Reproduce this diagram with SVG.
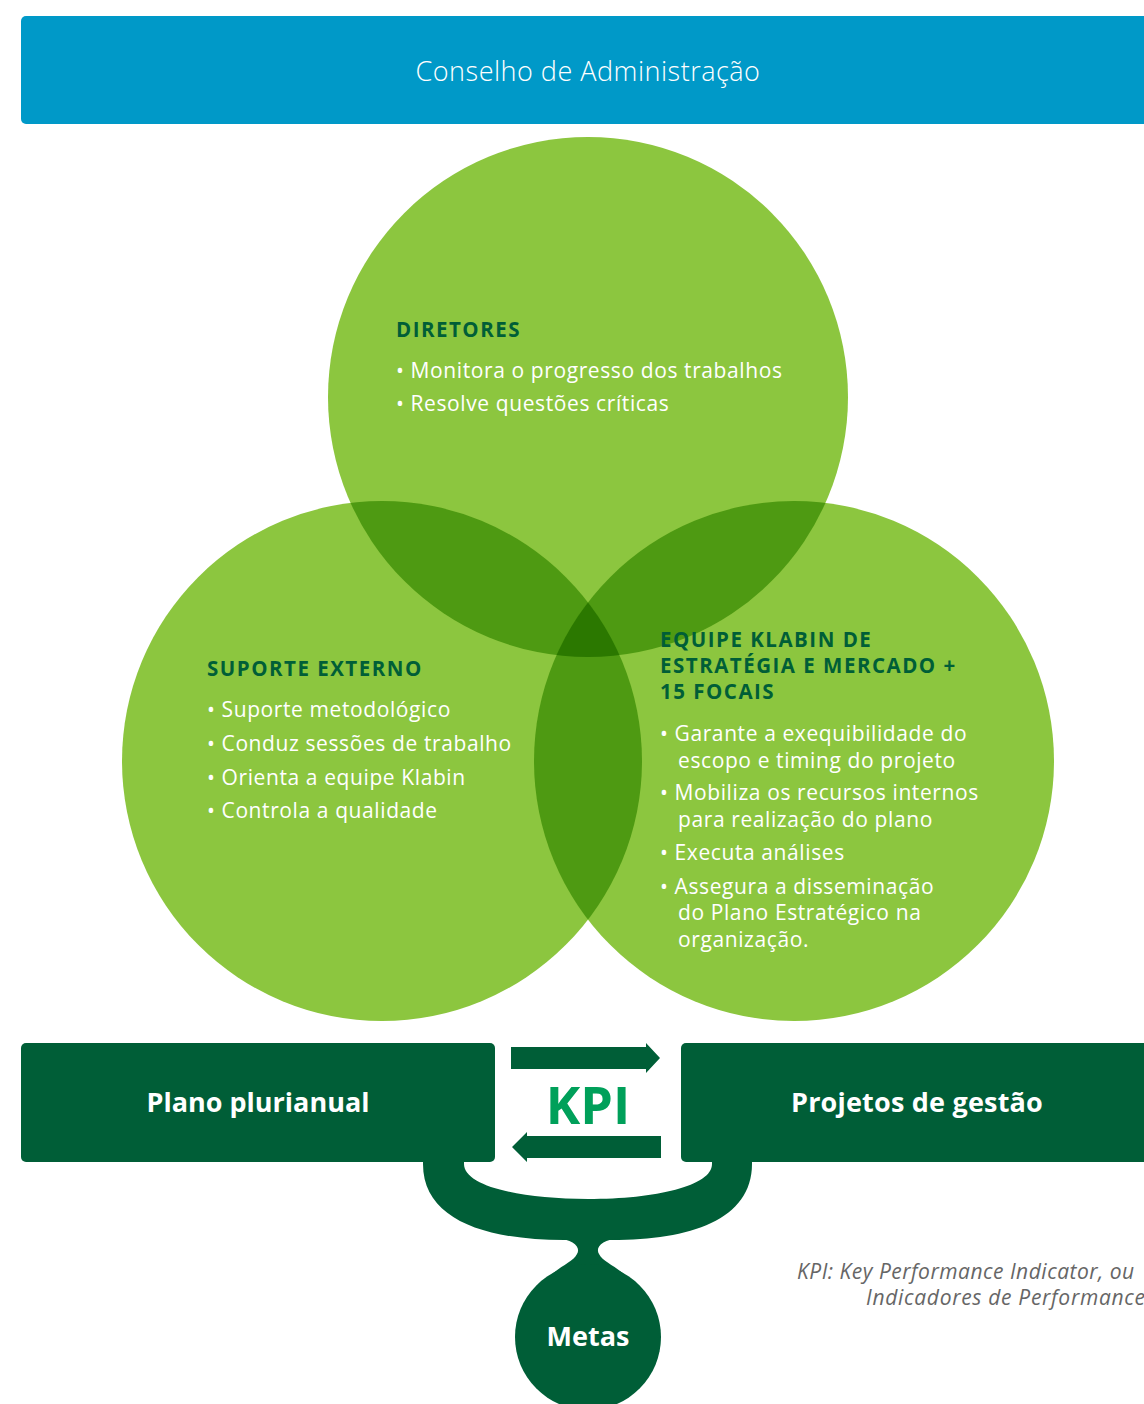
<svg xmlns="http://www.w3.org/2000/svg" width="1144" height="1404" viewBox="0 0 1144 1404">
<style>
.head{font-family:"Open Sans","Noto Sans",sans-serif;font-weight:700;font-size:20.5px;letter-spacing:1.5px;fill:#005e37}
.bul{font-family:"Open Sans","Noto Sans",sans-serif;font-size:21px;letter-spacing:0.6px;fill:#ffffff}
.box{font-family:"Open Sans","Noto Sans",sans-serif;font-weight:700;font-size:27px;fill:#ffffff}
.dk{fill:#005e37}
</style>
<defs>
<clipPath id="cT"><circle cx="588" cy="397" r="260"/></clipPath>
<clipPath id="cL"><circle cx="382" cy="761" r="260"/></clipPath>
<clipPath id="cR"><circle cx="794" cy="761" r="260"/></clipPath>
</defs>
<rect width="1144" height="1404" fill="#ffffff"/>
<g id="conselho">
<rect x="21" y="16" width="1140" height="108" rx="5" fill="#0099c8"/>
<text x="588" y="81" text-anchor="middle" font-family="Open Sans, Noto Sans, sans-serif" font-weight="300" font-size="27" letter-spacing="0.5" fill="#ffffff">Conselho de Administração</text>
</g>
<g id="circles">
<circle cx="588" cy="397" r="260" fill="#8cc63f"/>
<circle cx="382" cy="761" r="260" fill="#8cc63f"/>
<circle cx="794" cy="761" r="260" fill="#8cc63f"/>
<g clip-path="url(#cT)"><circle cx="382" cy="761" r="260" fill="#4e9a12"/><circle cx="794" cy="761" r="260" fill="#4e9a12"/></g>
<g clip-path="url(#cL)"><circle cx="794" cy="761" r="260" fill="#4e9a12"/></g>
<g clip-path="url(#cL)"><g clip-path="url(#cR)"><circle cx="588" cy="397" r="260" fill="#2b7800"/></g></g>
</g>
<g id="diretores">
<text class="head" x="396" y="337">DIRETORES</text>
<text class="bul" x="396" y="378">• Monitora o progresso dos trabalhos</text>
<text class="bul" x="396" y="411">• Resolve questões críticas</text>
</g>
<g id="suporte">
<text class="head" x="207" y="676">SUPORTE EXTERNO</text>
<text class="bul" x="207" y="717">• Suporte metodológico</text>
<text class="bul" x="207" y="751">• Conduz sessões de trabalho</text>
<text class="bul" x="207" y="785">• Orienta a equipe Klabin</text>
<text class="bul" x="207" y="818">• Controla a qualidade</text>
</g>
<g id="equipe">
<text class="head" x="660" y="647">EQUIPE KLABIN DE</text>
<text class="head" x="660" y="673">ESTRATÉGIA E MERCADO +</text>
<text class="head" x="660" y="699">15 FOCAIS</text>
<text class="bul" x="660" y="741">• Garante a exequibilidade do</text>
<text class="bul" x="678" y="768">escopo e timing do projeto</text>
<text class="bul" x="660" y="800">• Mobiliza os recursos internos</text>
<text class="bul" x="678" y="827">para realização do plano</text>
<text class="bul" x="660" y="860">• Executa análises</text>
<text class="bul" x="660" y="894">• Assegura a disseminação</text>
<text class="bul" x="678" y="920">do Plano Estratégico na</text>
<text class="bul" x="678" y="947">organização.</text>
</g>
<g id="connectors">
<path class="dk" d="M423,1150 L464,1150 L464,1164 C464,1186 520,1199 588,1199 C656,1199 712,1186 712,1164 L712,1150 L752,1150 L752,1164 C752,1220 690,1240 612,1240 L564,1240 C486,1240 423,1220 423,1164 Z"/>
<path class="dk" d="M556,1238 C574,1240 581,1247 577,1254 C573,1262 560,1266 550,1276 L626,1276 C616,1266 603,1262 599,1254 C595,1247 602,1240 620,1238 Z"/>
<path class="dk" d="M511,1047 L646,1047 L646,1043 L660,1058 L646,1073 L646,1069 L511,1069 Z"/>
<path class="dk" d="M661,1136 L527,1136 L527,1132 L512,1147 L527,1162 L527,1158 L661,1158 Z"/>
<text x="588" y="1124" text-anchor="middle" font-family="Open Sans, Noto Sans, sans-serif" font-weight="700" font-size="52" fill="#00a05a">KPI</text>
</g>
<g id="plano">
<rect x="21" y="1043" width="474" height="119" rx="5" class="dk"/>
<text class="box" x="258" y="1112" text-anchor="middle">Plano plurianual</text>
</g>
<g id="projetos">
<rect x="681" y="1043" width="480" height="119" rx="5" class="dk"/>
<text class="box" x="917" y="1112" text-anchor="middle" letter-spacing="0.2">Projetos de gestão</text>
</g>
<g id="metas">
<circle cx="588" cy="1337" r="73" class="dk"/>
<text class="box" x="588" y="1346" text-anchor="middle">Metas</text>
</g>
<g id="nota" font-family="Open Sans, Noto Sans, sans-serif" font-style="italic" font-size="21" letter-spacing="0.5" fill="#666666">
<text x="797" y="1279">KPI: Key Performance Indicator, ou</text>
<text x="866" y="1305" letter-spacing="0.7">Indicadores de Performance</text>
</g>
</svg>
